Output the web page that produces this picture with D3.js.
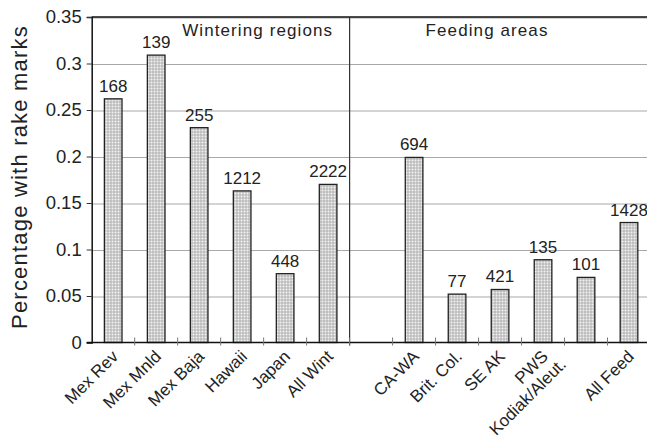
<!DOCTYPE html>
<html lang="en">
<head>
<meta charset="utf-8">
<title>Rake marks by region</title>
<script src="https://cdn.jsdelivr.net/npm/d3@7"></script>
<style>
  body { margin: 0; background: #fff; }
  svg text { font-family: "Liberation Sans", Arial, Helvetica, sans-serif; fill: #222; }
</style>
</head>
<body>
<script>
// categories (blank slot separates the two groups)
var categories = ["Mex Rev", "Mex Mnld", "Mex Baja", "Hawaii", "Japan", "All Wint", "",
                  "CA-WA", "Brit. Col.", "SE AK", "PWS", "Kodiak/Aleut.", "All Feed"];
// proportion with rake marks
var values = [0.262, 0.309, 0.231, 0.163, 0.074, 0.170, null,
              0.199, 0.052, 0.057, 0.089, 0.070, 0.129];
// sample sizes printed above bars
var counts = ["168", "139", "255", "1212", "448", "2222", "",
              "694", "77", "421", "135", "101", "1428"];
var yTicks = [0, 0.05, 0.1, 0.15, 0.2, 0.25, 0.3, 0.35];
var yTickLabels = ["0", "0.05", "0.1", "0.15", "0.2", "0.25", "0.3", "0.35"];
var groupLabels = ["Wintering regions", "Feeding areas"];

var w = 647, h = 439;
var plotLeft = 91.7, plotTop = 17, plotBottom = 342.5, plotRight = 650.5;

var svg = d3.select("body").append("svg")
  .attr("width", w).attr("height", h);

// dotted grey fill for the bars
var defs = svg.append("defs");
var pat = defs.append("pattern")
  .attr("id", "dots")
  .attr("patternUnits", "userSpaceOnUse")
  .attr("width", 3).attr("height", 3);
pat.append("rect").attr("width", 3).attr("height", 3).attr("fill", "#bcbcbc");
pat.append("circle").attr("cx", 1.5).attr("cy", 1.5).attr("r", 1).attr("fill", "#f2f2f2");

var x = d3.scaleBand()
  .domain(d3.range(categories.length))
  .range([plotLeft, plotRight])
  .padding(0);

var y = d3.scaleLinear()
  .domain([0, 0.35])
  .range([plotBottom, plotTop]);

// gridlines
svg.append("g")
  .selectAll("line")
  .data(yTicks.slice(1))
  .enter().append("line")
  .attr("x1", plotLeft).attr("x2", w)
  .attr("y1", function(d) { return y(d) + 1; })
  .attr("y2", function(d) { return y(d) + 1; })
  .attr("stroke", "#a8a8a8")
  .attr("stroke-width", 1);

// top frame line
svg.append("line")
  .attr("x1", plotLeft).attr("x2", w)
  .attr("y1", y(0.35)).attr("y2", y(0.35))
  .attr("stroke", "#111").attr("stroke-width", 1.5);

// divider between the two groups
svg.append("line")
  .attr("x1", x(6)).attr("x2", x(6))
  .attr("y1", y(0.35)).attr("y2", plotBottom + 3)
  .attr("stroke", "#333").attr("stroke-width", 1.2);

// bars
var bw = x.bandwidth() * 0.41;
var idx = d3.range(categories.length).filter(function(i) { return values[i] != null; });

svg.append("g")
  .selectAll("rect")
  .data(idx)
  .enter().append("rect")
  .attr("x", function(i) { return x(i) + (x.bandwidth() - bw) / 2; })
  .attr("y", function(i) { return y(values[i]); })
  .attr("width", bw)
  .attr("height", function(i) { return plotBottom - y(values[i]); })
  .attr("fill", "url(#dots)")
  .attr("stroke", "#222")
  .attr("stroke-width", 1.3);

// count labels
svg.append("g")
  .selectAll("text")
  .data(idx)
  .enter().append("text")
  .attr("x", function(i) { return x(i) + x.bandwidth() / 2; })
  .attr("y", function(i) { return y(values[i]) - 7; })
  .attr("text-anchor", "middle")
  .attr("font-size", "17px")
  .text(function(i) { return counts[i]; });

// y axis
var yAxis = d3.axisLeft(y)
  .tickValues(yTicks)
  .tickSize(5)
  .tickPadding(5)
  .tickFormat(function(d, i) { return yTickLabels[i]; });

var gy = svg.append("g")
  .attr("transform", "translate(" + plotLeft + ",0)")
  .call(yAxis);
gy.select(".domain").attr("stroke", "#111").attr("stroke-width", 1.5);
gy.selectAll(".tick line").attr("stroke", "#333");
gy.selectAll(".tick text")
  .attr("font-size", "18.5px")
  .attr("fill", "#222")
  .attr("font-family", "Liberation Sans, Arial, sans-serif");

// x axis line and ticks at band boundaries
svg.append("line")
  .attr("x1", plotLeft - 5).attr("x2", w)
  .attr("y1", plotBottom).attr("y2", plotBottom)
  .attr("stroke", "#111").attr("stroke-width", 1.5);

svg.append("g")
  .selectAll("line")
  .data(d3.range(1, categories.length + 1))
  .enter().append("line")
  .attr("x1", function(i) { return x(0) + i * x.step(); })
  .attr("x2", function(i) { return x(0) + i * x.step(); })
  .attr("y1", plotBottom - 5).attr("y2", plotBottom + 3)
  .attr("stroke", "#777").attr("stroke-width", 1);

// rotated category labels; the long Kodiak label sits lower and further left
svg.append("g")
  .selectAll("text")
  .data(idx)
  .enter().append("text")
  .attr("text-anchor", "end")
  .attr("font-size", "17px")
  .attr("transform", function(i) {
    var cx = x(i) + x.bandwidth() / 2 + 6;
    var cy = plotBottom + 15;
    if (categories[i] === "Kodiak/Aleut.") { cx -= 25; cy += 8; }
    return "translate(" + cx + "," + cy + ") rotate(-45)";
  })
  .text(function(i) { return categories[i]; });

// group headings
svg.append("text")
  .attr("x", (x(0) + x(6)) / 2 + 37)
  .attr("y", 36)
  .attr("text-anchor", "middle")
  .attr("font-size", "17px")
  .attr("letter-spacing", "1.1px")
  .text(groupLabels[0]);

svg.append("text")
  .attr("x", x(9) + x.bandwidth() / 2 - 13)
  .attr("y", 36)
  .attr("text-anchor", "middle")
  .attr("font-size", "17px")
  .attr("letter-spacing", "1.1px")
  .text(groupLabels[1]);

// y axis title
svg.append("text")
  .attr("transform", "translate(27,177) rotate(-90)")
  .attr("text-anchor", "middle")
  .attr("font-size", "22px")
  .attr("letter-spacing", "1.2px")
  .text("Percentage with rake marks");
</script>
</body>
</html>
